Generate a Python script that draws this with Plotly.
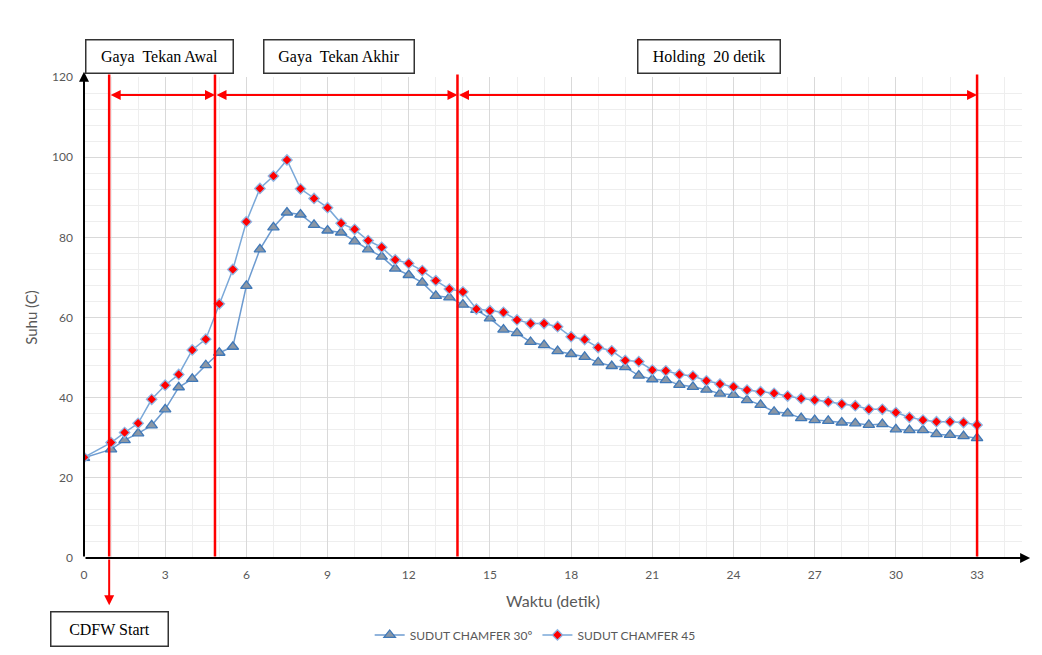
import plotly.graph_objects as go

# ---------------- data ----------------
times = [0, 1, 1.5, 2, 2.5, 3, 3.5, 4, 4.5, 5, 5.5, 6, 6.5, 7, 7.5, 8, 8.5, 9, 9.5, 10,
         10.5, 11, 11.5, 12, 12.5, 13, 13.5, 14, 14.5, 15, 15.5, 16, 16.5, 17, 17.5, 18,
         18.5, 19, 19.5, 20, 20.5, 21, 21.5, 22, 22.5, 23, 23.5, 24, 24.5, 25, 25.5, 26,
         26.5, 27, 27.5, 28, 28.5, 29, 29.5, 30, 30.5, 31, 31.5, 32, 32.5, 33]

chamfer30 = [25.0, 27.1, 29.4, 31.1, 33.1, 37.1, 42.6, 44.7, 48.1, 51.2, 52.7, 67.9, 77.0,
             82.5, 86.2, 85.7, 83.1, 81.7, 81.2, 79.0, 77.0, 75.2, 72.2, 70.6, 68.7, 65.4,
             65.0, 63.2, 61.9, 59.8, 57.0, 56.1, 53.9, 53.1, 51.6, 50.9, 50.2, 48.8, 47.9,
             47.6, 45.5, 44.6, 44.4, 43.2, 42.7, 42.0, 41.0, 40.7, 39.4, 38.2, 36.5, 36.1,
             34.9, 34.4, 34.2, 33.8, 33.6, 33.2, 33.4, 32.1, 31.9, 31.9, 30.9, 30.7, 30.4, 29.9]

chamfer45 = [25.1, 28.8, 31.3, 33.6, 39.6, 43.1, 45.8, 51.9, 54.6, 63.4, 72.0, 83.9, 92.2,
             95.3, 99.3, 92.1, 89.7, 87.4, 83.5, 82.0, 79.2, 77.5, 74.4, 73.5, 71.7, 69.2,
             67.1, 66.4, 62.1, 61.7, 61.3, 59.4, 58.5, 58.5, 57.7, 55.2, 54.5, 52.5, 51.7,
             49.3, 49.0, 46.9, 46.7, 45.8, 45.4, 44.2, 43.4, 42.7, 41.9, 41.5, 41.1, 40.4,
             39.8, 39.4, 39.0, 38.4, 38.0, 37.1, 37.1, 36.3, 35.1, 34.4, 34.0, 34.0, 33.8, 33.2]

series_names = ["SUDUT CHAMFER 30º", "SUDUT CHAMFER 45"]
x_ticks = [0, 3, 6, 9, 12, 15, 18, 21, 24, 27, 30, 33]
y_ticks = [0, 20, 40, 60, 80, 100, 120]

# phase boundaries (detik) and labels
phase_bounds = [0.93, 4.84, 13.8, 33.0]
phase_labels = ["Gaya  Tekan Awal", "Gaya  Tekan Akhir", "Holding  20 detik"]
start_label = "CDFW Start"

# ---------------- figure ----------------
fig = go.Figure()
fig.add_trace(go.Scatter(
    x=times, y=chamfer30, name=series_names[0], mode="lines+markers",
    line=dict(color="#6d9bd0", width=1.5),
    marker=dict(symbol="triangle-up", size=10, color="#8a97a6",
                line=dict(color="#3f78b8", width=1.3)),
))
fig.add_trace(go.Scatter(
    x=times, y=chamfer45, name=series_names[1], mode="lines+markers",
    line=dict(color="#7aa8d8", width=1.5),
    marker=dict(symbol="diamond", size=8, color="#ff0000",
                line=dict(color="#8fb6e4", width=1.3)),
))

annotations = []
RED = "#ff0000"
top_v = 120.6
arrow_y = 115.5

# black axis arrows
annotations.append(dict(x=34.96, y=0, ax=0, ay=0, xref="x", yref="y", axref="x", ayref="y",
                        text="", showarrow=True, arrowhead=2, arrowsize=1, arrowwidth=2,
                        arrowcolor="black"))
annotations.append(dict(x=0, y=121.3, ax=0, ay=0, xref="x", yref="y", axref="x", ayref="y",
                        text="", showarrow=True, arrowhead=2, arrowsize=1, arrowwidth=2,
                        arrowcolor="black"))

# red vertical lines
for b in phase_bounds:
    annotations.append(dict(x=b, y=top_v, ax=b, ay=0, xref="x", yref="y", axref="x", ayref="y",
                            text="", showarrow=True, arrowhead=0, arrowwidth=2.5,
                            arrowcolor=RED))
# CDFW start down arrow
annotations.append(dict(x=phase_bounds[0], y=-11.8, ax=phase_bounds[0], ay=0,
                        xref="x", yref="y", axref="x", ayref="y",
                        text="", showarrow=True, arrowhead=2, arrowsize=1, arrowwidth=2,
                        arrowcolor=RED))
# double-headed horizontal arrows
for a, b in zip(phase_bounds[:-1], phase_bounds[1:]):
    annotations.append(dict(x=b, y=arrow_y, ax=a, ay=arrow_y, xref="x", yref="y",
                            axref="x", ayref="y", text="", showarrow=True,
                            arrowhead=2, startarrowhead=2, arrowside="end+start",
                            arrowsize=1, startarrowsize=1, arrowwidth=2, arrowcolor=RED))

box_font = dict(family="'Liberation Serif', 'DejaVu Serif', serif", size=16, color="black")
box_specs = [(0.081, 142), (0.2722, 145), (0.6668, 137)]
for (cx, w), lab in zip(box_specs, phase_labels):
    annotations.append(dict(x=cx, y=1.0426, xref="paper", yref="paper", text=lab,
                            showarrow=False, font=box_font, bgcolor="white",
                            bordercolor="#333333", borderwidth=1.5, borderpad=2,
                            width=w, height=28, xanchor="center", yanchor="middle"))
annotations.append(dict(x=0.0277, y=-0.1476, xref="paper", yref="paper", text=start_label,
                        showarrow=False, font=box_font, bgcolor="white",
                        bordercolor="#333333", borderwidth=1.5, borderpad=2,
                        width=112, height=29, xanchor="center", yanchor="middle"))

fig.update_layout(
    width=1042, height=655,
    margin=dict(l=84, r=20, t=77, b=97, autoexpand=False),
    paper_bgcolor="white", plot_bgcolor="white",
    font=dict(family="Lato, Open Sans, sans-serif", color="#595959"),
    showlegend=True,
    legend=dict(orientation="h", x=0.481, xanchor="center", y=-0.16, yanchor="middle",
                font=dict(size=12, color="#595959"), bgcolor="rgba(0,0,0,0)",
                itemwidth=30),
    annotations=annotations,
    xaxis=dict(range=[0, 34.66], tickvals=x_ticks, ticks="", showline=False,
               zeroline=False, showgrid=True, gridcolor="#d9d9d9", gridwidth=1,
               minor=dict(dtick=1, tick0=0, showgrid=True, gridcolor="#eeeeee"),
               tickfont=dict(size=12, color="#595959"), ticklabelstandoff=8,
               automargin=False,
               title=dict(text="Waktu (detik)", font=dict(size=16, color="#595959"),
                          standoff=14)),
    yaxis=dict(range=[0, 120], tickvals=y_ticks, ticks="", showline=False,
               zeroline=False, showgrid=True, gridcolor="#d9d9d9", gridwidth=1,
               minor=dict(dtick=4, tick0=0, showgrid=True, gridcolor="#eeeeee"),
               tickfont=dict(size=12, color="#595959"), ticklabelstandoff=10,
               automargin=False,
               title=dict(text="Suhu (C)", font=dict(size=15, color="#595959"),
                          standoff=10)),
)

fig.write_html("out.html")
